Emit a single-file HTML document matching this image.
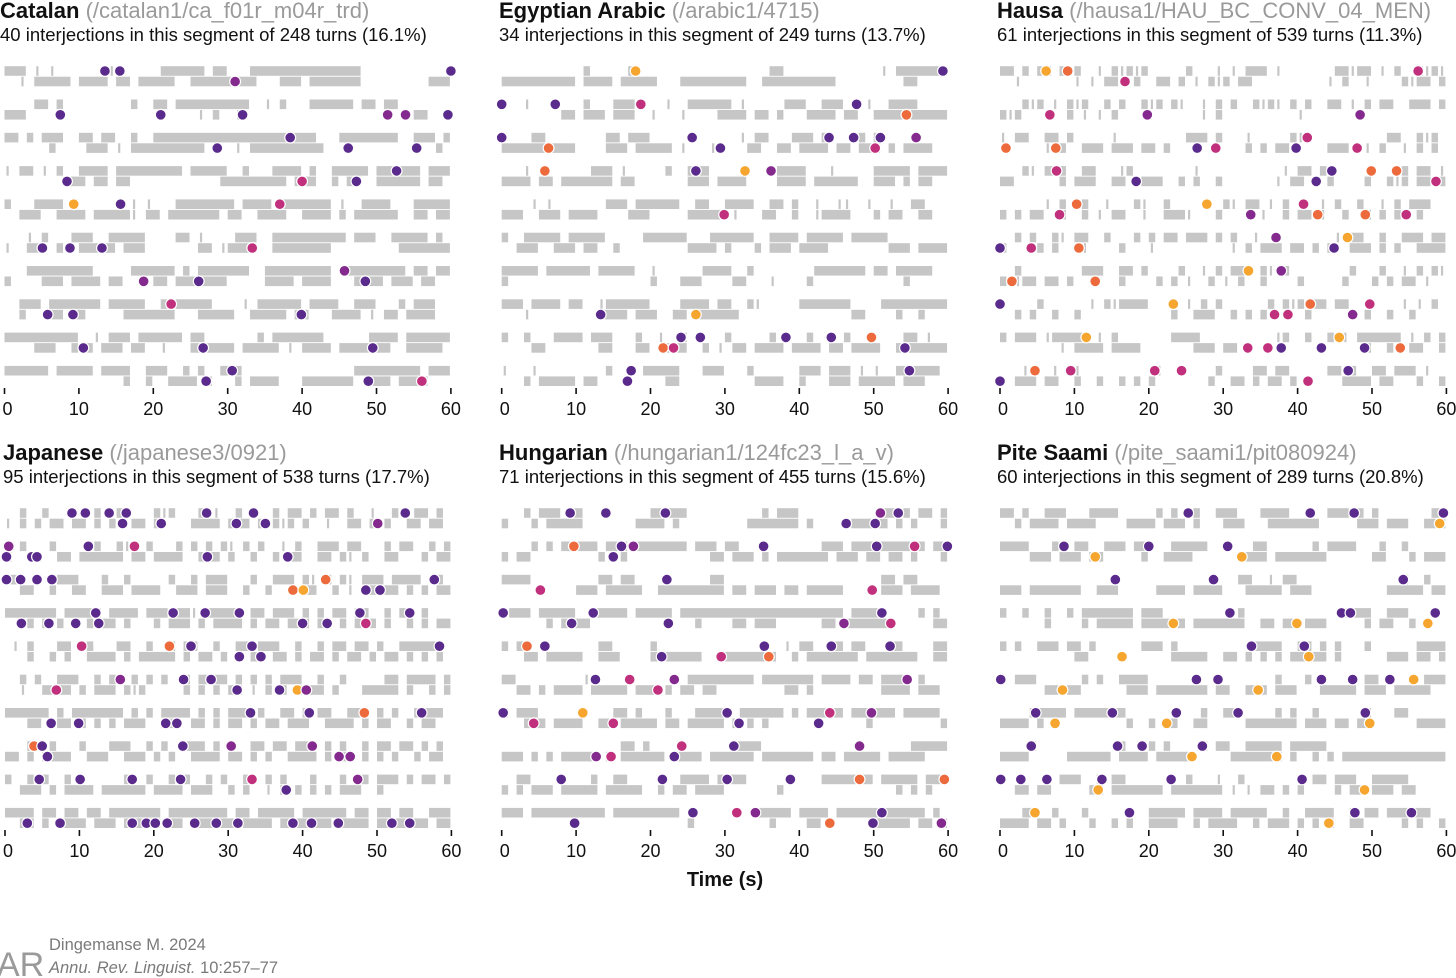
<!DOCTYPE html>
<html><head><meta charset="utf-8">
<style>
html,body{margin:0;padding:0;background:#fff;}
body{width:1456px;height:978px;overflow:hidden;position:relative;font-family:"Liberation Sans",sans-serif;}
svg{position:absolute;left:0;top:0;}
</style></head>
<body>
<svg id="chart" width="1456" height="978" viewBox="0 0 1456 978">
  <g id="titles"></g>
  <g id="marks"></g>
  <text x="725" y="886" text-anchor="middle" font-size="20" font-weight="bold" fill="#111">Time (s)</text>
  <g>
    <text x="-3" y="976" font-size="34" fill="#9a9a9a" font-family="Liberation Sans, sans-serif">AR</text>
  </g>
  <text x="49" y="950" font-size="16.5" fill="#7a7a7a">Dingemanse M. 2024</text>
  <text x="49" y="973" font-size="16.5" font-style="italic" fill="#7a7a7a">Annu. Rev. Linguist. <tspan font-style="normal">10:257–77</tspan></text>
</svg>
<script>
// ---- data ----
const panelNames = ["Catalan","Egyptian Arabic","Hausa","Japanese","Hungarian","Pite Saami"];
const panelPaths = ["(/catalan1/ca_f01r_m04r_trd)","(/arabic1/4715)","(/hausa1/HAU_BC_CONV_04_MEN)","(/japanese3/0921)","(/hungarian1/124fc23_l_a_v)","(/pite_saami1/pit080924)"];
const panelCounts = [40,34,61,95,71,60];
const panelTurns = [248,249,539,538,455,289];
const panelPercents = ["16.1%","13.7%","11.3%","17.7%","15.6%","20.8%"];
const tickValues = [0,10,20,30,40,50,60];

// bars: each row = [top track, bottom track]; one char = 1 s ('#' turn, '|' brief turn)
const catalanBars = [
 ["###.|.|.......|......######.##...###############.........","..|.#####.####.##.#####..#########...###.#######.........####"],
 ["....##.#.........#..##.##########..|.#...######.##.##......","###.......................|.#..|.......................##...."],
 ["##.#.###..##.##..#..######################...########..###.##.|","......#....###.|.##########....|.##########...............#"],
 ["|.##.|.#..####.#########.#####..#...####.#..#####.######.####..","........###.##.##............#########.###..#.##..######.##.###"],
 ["#...####.#.......|.|...########.####.#######.|..####...#####.|","..###..####.#####|.##.#######.##..####..####.#.######..##.##.##"],
 ["...|.#...###..#####....##.|....###..##########.###..#####.#.....","|..##..#..#####.###.......##.|####..########.........#######.."],
 ["...#########.....######.#.#######..#########..########.##.###","#....###.####.##..|.##.#######.....####.####...####.###.##.."],
 ["..###.#######.#####..#.#####....|.######.####..###...#.###.....","..#...##.##.....#######...#####..#####.##...####.|.##.####."],
 ["##########..|.###.######.##.......#.#######......####.########.","....###..#.#.###.##..|...######.#####.|.####.#######..#####.."],
 ["######.#####.####..###..#.#..###...............#########.#####","................#..#..####.#...#.####...#######..###.####....."]
];
const egyptBars = [
 ["...........#.....#..................##.............|.##########.|....#","##########.####.#####...#########..##########.........##........######.#####"],
 ["...|.......#...###....|..######.|.....###..###...|..####.","........##.###.###..|...|....####.##.#...####.##..####.#####"],
 ["....##........##.###............|.##...###.#....#.#..........","##########....###.#####.|...|....##..##.####.##.###.#.####."],
 ["...|........###.|.....#..###.........####...|.....#####.#####.","####.##.#######.##.......###.####....####.######..###.#.##....."],
 ["....|.|.......###.######..##..####..##.#..|..||..|..|..##...#.","###..###.####....###.....#####.|...##..#..|####...#.##..##...."],
 ["#..#####.#####.....######...######..####.#####.#####.........##########","..###..###.##..#.........####.#...#.###.####........###.#######"],
 ["#####.######.#####..|......####..#........#######.##.#####.......","#...................#...###....##...|....#............#.........."],
 ["###.####.##..|######....####.##..#|.....#######....##########.","...|.........####.###..##.######...............##....#..#..."],
 ["#..#...####.###...#..|..#.....#.....#....#....#.......##.|..","....##.......##...##..###..#.|.##.####.####.##.####..########"],
 ["|...|.........#..|.#####...###...#......###.###.|.|..######.|.","...#.#####.##.........##..........####..#...###.#####.###...#"]
];
const hausaBars = [
 ["##.#.##.#.#..|.#|#|#.....#...|.|.###.|.......##|##.|.#..#|#|##.......#|#.#.#","..|.......|.|.##..#..##.#.|.#|#.##..........|.#..|....#|##.#...|.|.|"],
 ["...#|#.|.#|#..#.#..#|#.#|..|.#.#..#|#|.#.#..##.|.#.##..###.##","#|#......#.|.|.#...........|.#..........|.......#.............."],
 ["|.##..##.#.....|.........###.#...|.....#|#..........##..#|#...","......|.#..###.###.##.#..........#.#.##.....###..|.#..|.#.#.#."],
 ["...#|.###..##...|#........|...........|.##.#..........#.##.|.###","##......#.###..##..###..#.#..#.......|.##.#.#....#..#|#.##.#.."],
 ["......|.#..#..|...#|..#.......#|.##.|.#.|..|.#..#..|.#.###","#.#.##..#..#.|.##..|..###|...#.....|..#.##.|..#..#.#.#..#....|."],
 ["..#.#..#|.##..#...#.#.##.###.#.#..|..........|.##..#..###.##","#....#.#...|....#...|..........|.#.###.##.#.#..###.#.#..####...#"],
 ["..#........###..##.#....#..|.#.##..#|.#........#...#..|.#.#|.#..","#.|##.##.#......#....#.#.|..#.|.#..#....#.....#...#.#.##.|"],
 [".....#......|.#|####.....|.#.#......#.#|#.##.##.......|.|.#.####.#.#..","..#.#..#..#............#..###..#.#.#.....#.....#.#..#..#......#"],
 ["#.###.|#####.|.#.......####..........|#..#..#.|.######.|.#.#.####..","........|.####.####.......###.##.#...............#..#..##..#.#."],
 ["...|...|..|..........|.......#....##.##.....##.#..##.###.|..|#.|..#","..###.##..#..#..#.#.#.......#..##.#.##.#.#....####.##...#..####"]
];
const japanBars = [
 ["..#..#......#..##...#|#...#.|..#.#..#.##.#.##.#..|..#..##.#","|.#.#.##.##.#.#..##.#....####.###.#.#|#.#..|..##.#.#..##.##.#"],
 ["..#...#.....#..#|..#...#.#.#.#|.#.#..|.#..###.##...#.##..#.#","#...#..##.######.##.####..###.#..#..#.##..##.#|.#..##...#.##..#"],
 ["##..#..###...#..#.....#..#.###...#..###.#|.#.#|.###.####..#","..##..#..##..###.####..###.###..#..#..|.##..#.|..#.##.#.#.###"],
 ["#######.#####.####.###.##|.#####.##.###.#.#.##.##..#.##.#...##","...#.#.#...#.##.#...#.###.#.####.#.##.###.##.#.#.#.#..#.#.##"],
 [".|.#...##..#...##..#..#.##..#..##.###..#..#.##.##.#..#####...#","...#..#.#..####.#.#####.#.##.#.#.#..##.#.##.#.##.#.##.#.#.#.."],
 ["..#.#..###..#.#..#.#.#..#.####.#.#.#.###..#..#.....##.####.##","..|..####.#.###.#|#.....#.#.#.##.|.#.#.#.##.#...#####.#..#.#.."],
 ["######.#.#######.#.#.####.#.#.###.#..##.#.##..###.#.#..####.##.","...##..##.#.#.#.###..##..##.#.##.#.##.###..####.#.##..#.##..##"],
 ["...#..#...#...###..#.#..###.#.#..##.##.###.#.#..#.##.##.#.#.#","##.#.####..###..###.#.#..####.##.#.#..####.#.##.#.#.#..#.##.#.."],
 ["#..#.#..#.......#..#..#.#..#.#..#..#.#...#...#.##.###.#.##.#","..###.#.####.######.####.###..#.#..|.#.#.#.#.###..#...."],
 ["####.##.##.##.#######.########.##.#####.######.##.##.##..###..#","..##.#.####.###.#####.##.######.####.#######.####.####.##.##"]
];
const hungBars = [
 ["...#.###.##.........#####..........#.###...........##.#.##.##.#.####","#...#.#####.......####.#.........#######.#.....#####.#.#...##.##"],
 ["....#.#.#####.###.#######.###.##...........###.########.#.##..#","#.##.........#..#...........##.###.#.#######.###.##.##.#...##.."],
 ["####.........##.##..........##.....................##.##.......","..........###.#####..#########.##.###.##.#####.....###.####..###"],
 [".###.#####..#####.#####.######################.####.....#.#...","......#.####..............#....##.###......##.#######.....##.#"],
 ["#.##.........##.....#.................|.##..##.##...##....##.....#","...##.#####..###....#######..########..#.#######.#######..####.#"],
 ["##.........|.............#########.#######.####.##.####.#.....##...#","..##.#.####.#####.###.#.##.##.........##.#.........####.###.##"],
 ["#.###..........##.#...#...#####.######.#.#####.######.#####.###","...###.####..##.#####.##.#####.#.#.#......#......#.........###"],
 ["................##.#...........####....................##########","###.#.#.#####.#.######.####.######.#######.##.#####.#####.....###"],
 ["..##........#..##.......####.####..........#######.#####.#####.#","#.#.###.#####.#####..#.##.####.......#...............#.#.#....##"],
 ["###.##########.#########..........#####.####.############.#.####.###",".........................#..........#....##.......#####.##.##.#"]
];
const piteBars = [
 ["##.#..###...####.....#.#..#..###...####.....###.#.#.......##.#","..#.####.####....####.###.#...###...#######.....###.###..####"],
 ["####...#..##..###.##...#####......##......#.####...#..#.....#.","....###.###.##.....#..####.......###.#######......##...#.###..."],
 ["................................##..|.##..............#..#......","###.#######..###.....####.####...#####.###..........#####.####."],
 ["#..#..#..#.#######.###..........#.............####..###......####.###","......#....#.#####.######.#######..##.##.###.....#.##..#..."],
 ["#.#..###.##.#......###.#..........####..##.#.#...#......####....#","..........##...........#####..##.#.#.#.#####.#......###.##.######"],
 ["..###......#.#..####.................#...#.......##.#....###..####...","......##.##......###.#######.##..###.###...#####.###.#####...#####"],
 ["....#####.#######..........#..##.....#.#..#......#...##.....","####.#...........#..#.##..##.....#######.###.##.##......####"],
 ["....#...........#...#.#....#.##..#####.#####","####.....######.####.#####.....#######.#..#.#.##############"],
 ["........###..#.##........#...|..#.........##.###..#####.","..##.##.....##.#######.#######.|.|.##.#.#....#.##.###.##"],
 ["...##..#...#.....#..#####.####.#####..#..####..#.##.######.","####.##.#...#..#.#..####..#.####..#.###.#.#.#..##.....#.#..#"]
];
// dots: [row, track(0 top / 1 bottom), seconds, colour key]
const catalanDots = [
 [0,0,13.5,'p'],[0,0,15.5,'p'],[0,1,31.0,'m'],[0,0,60,'p'],
 [1,1,7.5,'p'],[1,1,21.0,'p'],[1,1,32.0,'p'],[1,1,51.5,'m'],[1,1,53.9,'m'],[1,1,59.6,'p'],
 [2,0,38.4,'p'],[2,1,28.6,'p'],[2,1,46.2,'p'],[2,1,55.4,'p'],
 [3,0,52.7,'p'],[3,1,8.4,'p'],[3,1,40.0,'k'],[3,1,47.3,'p'],
 [4,0,9.3,'o'],[4,0,15.6,'p'],[4,0,37.0,'k'],
 [5,1,5.1,'p'],[5,1,8.8,'p'],[5,1,13.1,'p'],[5,1,33.3,'k'],
 [6,0,45.7,'m'],[6,1,18.7,'m'],[6,1,26.1,'p'],[6,1,48.5,'p'],
 [7,0,22.4,'k'],[7,1,5.8,'p'],[7,1,9.2,'p'],[7,1,39.9,'p'],
 [8,1,10.6,'p'],[8,1,26.7,'p'],[8,1,49.5,'p'],
 [9,0,30.6,'p'],[9,1,27.1,'p'],[9,1,48.9,'p'],[9,1,56.1,'k']
];
const egyptDots = [
 [0,0,18.0,'o'],[0,0,59.3,'p'],
 [1,0,0.0,'p'],[1,0,7.2,'p'],[1,0,18.7,'k'],[1,0,47.7,'p'],[1,1,54.4,'r'],
 [2,0,0.0,'p'],[2,0,25.6,'p'],[2,0,44.0,'p'],[2,0,47.3,'p'],[2,0,50.9,'p'],[2,0,55.7,'m'],[2,1,6.3,'r'],[2,1,29.4,'p'],[2,1,50.2,'k'],
 [3,0,5.8,'r'],[3,0,26.1,'p'],[3,0,32.7,'o'],[3,0,36.2,'m'],
 [4,1,29.9,'k'],
 [7,1,13.3,'p'],[7,1,26.1,'o'],
 [8,0,24.1,'p'],[8,0,26.7,'p'],[8,0,38.2,'p'],[8,0,44.3,'p'],[8,0,49.7,'r'],[8,1,21.7,'r'],[8,1,23.1,'k'],[8,1,54.2,'p'],
 [9,0,17.4,'p'],[9,0,54.8,'p'],[9,1,16.9,'p']
];
const hausaDots = [
 [0,0,6.2,'o'],[0,0,9.1,'r'],[0,0,56.2,'k'],[0,1,16.8,'k'],
 [1,1,6.7,'k'],[1,1,19.8,'m'],[1,1,48.4,'m'],
 [2,0,41.3,'k'],[2,1,0.8,'r'],[2,1,7.5,'r'],[2,1,26.5,'p'],[2,1,29.0,'k'],[2,1,39.8,'p'],[2,1,48.0,'k'],
 [3,0,7.6,'k'],[3,0,44.6,'p'],[3,0,49.9,'r'],[3,0,53.3,'r'],[3,1,18.3,'p'],[3,1,42.5,'p'],[3,1,58.6,'k'],
 [4,0,10.3,'r'],[4,0,27.8,'o'],[4,0,40.8,'k'],[4,1,8.0,'k'],[4,1,33.7,'m'],[4,1,42.7,'r'],[4,1,49.1,'r'],[4,1,54.6,'k'],
 [5,0,37.1,'m'],[5,0,46.7,'o'],[5,1,0.0,'p'],[5,1,4.2,'k'],[5,1,10.6,'r'],[5,1,44.9,'p'],
 [6,0,33.4,'o'],[6,0,37.8,'m'],[6,1,1.6,'r'],[6,1,12.8,'r'],
 [7,0,0.0,'p'],[7,0,23.3,'o'],[7,0,41.7,'r'],[7,0,49.7,'k'],[7,1,36.9,'k'],[7,1,38.7,'k'],[7,1,47.4,'m'],
 [8,0,11.6,'o'],[8,0,45.6,'o'],[8,1,33.3,'k'],[8,1,36.0,'k'],[8,1,37.8,'p'],[8,1,43.2,'p'],[8,1,49.0,'p'],[8,1,53.8,'r'],
 [9,0,4.7,'r'],[9,0,9.5,'k'],[9,0,20.8,'k'],[9,0,24.4,'k'],[9,0,46.8,'p'],[9,1,0.0,'p'],[9,1,41.4,'k']
];
const japanDots = [
 [0,0,9.0,'p'],[0,0,10.8,'p'],[0,0,14.0,'p'],[0,0,16.3,'p'],[0,0,27.1,'p'],[0,0,33.4,'p'],[0,0,53.8,'p'],
 [0,1,15.8,'p'],[0,1,21.0,'p'],[0,1,31.1,'p'],[0,1,35.0,'p'],[0,1,50.1,'m'],
 [1,0,0.5,'m'],[1,0,11.2,'p'],[1,0,17.4,'k'],[1,1,0.2,'p'],[1,1,3.6,'p'],[1,1,4.3,'p'],[1,1,27.2,'p'],[1,1,38.0,'p'],
 [2,0,0.2,'p'],[2,0,2.1,'p'],[2,0,4.3,'p'],[2,0,6.3,'p'],[2,0,43.1,'r'],[2,0,57.7,'p'],[2,1,38.7,'r'],[2,1,40.1,'o'],[2,1,48.5,'p'],[2,1,50.4,'p'],
 [3,0,12.2,'p'],[3,0,22.6,'p'],[3,0,26.9,'p'],[3,0,31.5,'p'],[3,0,47.7,'p'],[3,0,54.4,'p'],
 [3,1,2.2,'p'],[3,1,5.9,'p'],[3,1,9.5,'p'],[3,1,12.6,'p'],[3,1,40.0,'p'],[3,1,43.3,'p'],[3,1,48.5,'k'],
 [4,0,10.3,'k'],[4,0,22.1,'r'],[4,0,25.0,'p'],[4,0,33.2,'p'],[4,0,58.4,'p'],[4,1,31.5,'p'],[4,1,34.4,'p'],
 [5,0,15.5,'m'],[5,0,24.0,'p'],[5,0,27.7,'p'],[5,1,6.9,'k'],[5,1,31.2,'p'],[5,1,36.9,'p'],[5,1,39.3,'o'],[5,1,40.5,'m'],
 [6,0,33.0,'p'],[6,0,40.9,'p'],[6,0,48.3,'r'],[6,0,56.0,'p'],[6,1,6.2,'p'],[6,1,9.9,'p'],[6,1,21.6,'p'],[6,1,23.1,'p'],
 [7,0,3.9,'r'],[7,0,5.0,'p'],[7,0,23.9,'p'],[7,0,30.4,'m'],[7,0,41.3,'m'],[7,1,5.7,'p'],[7,1,44.9,'m'],[7,1,46.4,'m'],
 [8,0,4.6,'p'],[8,0,10.1,'p'],[8,0,17.1,'p'],[8,0,23.6,'p'],[8,0,33.2,'k'],[8,0,47.4,'m'],[8,1,37.8,'p'],
 [9,1,3.0,'p'],[9,1,7.4,'p'],[9,1,17.1,'p'],[9,1,19.0,'p'],[9,1,20.2,'p'],[9,1,21.8,'p'],[9,1,25.5,'p'],[9,1,28.4,'p'],[9,1,31.3,'p'],[9,1,38.7,'p'],[9,1,41.2,'p'],[9,1,44.8,'p'],[9,1,52.0,'p'],[9,1,54.4,'p']
];
const hungDots = [
 [0,0,9.2,'p'],[0,0,14.0,'p'],[0,0,22.0,'p'],[0,0,50.9,'m'],[0,0,53.3,'p'],[0,1,46.3,'p'],[0,1,50.2,'p'],
 [1,0,9.7,'r'],[1,0,16.1,'p'],[1,0,17.7,'m'],[1,0,35.2,'p'],[1,0,50.4,'p'],[1,0,55.5,'k'],[1,0,59.9,'p'],[1,1,15.0,'p'],
 [2,0,22.2,'p'],[2,1,5.2,'k'],[2,1,49.8,'k'],
 [3,0,0.2,'p'],[3,0,12.3,'p'],[3,0,51.1,'p'],[3,1,9.4,'p'],[3,1,22.4,'p'],[3,1,46.0,'m'],[3,1,52.3,'k'],
 [4,0,3.4,'r'],[4,0,5.8,'p'],[4,0,35.3,'p'],[4,0,44.3,'p'],[4,0,52.2,'p'],[4,1,21.5,'p'],[4,1,29.5,'k'],[4,1,35.9,'r'],
 [5,0,12.6,'p'],[5,0,17.2,'k'],[5,0,23.2,'m'],[5,0,54.5,'m'],[5,1,21.0,'k'],
 [6,0,0.2,'p'],[6,0,10.9,'o'],[6,0,30.3,'p'],[6,0,44.1,'k'],[6,0,49.7,'m'],[6,1,4.3,'k'],[6,1,15.0,'k'],[6,1,31.9,'p'],[6,1,42.6,'p'],
 [7,0,24.2,'k'],[7,0,31.2,'p'],[7,0,48.1,'m'],[7,1,12.7,'m'],[7,1,14.7,'k'],[7,1,23.2,'p'],
 [8,0,8.0,'p'],[8,0,21.6,'p'],[8,0,30.3,'p'],[8,0,38.8,'p'],[8,0,48.1,'r'],[8,0,59.5,'r'],
 [9,0,25.7,'p'],[9,0,31.6,'k'],[9,0,34.1,'m'],[9,0,51.1,'p'],[9,1,9.8,'p'],[9,1,44.1,'r'],[9,1,49.9,'p'],[9,1,59.1,'m']
];
const piteDots = [
 [0,0,25.3,'p'],[0,0,41.7,'p'],[0,0,47.6,'p'],[0,0,59.6,'p'],[0,1,59.1,'o'],
 [1,0,8.6,'p'],[1,0,20.0,'p'],[1,0,30.6,'p'],[1,1,12.8,'o'],[1,1,32.5,'o'],
 [2,0,15.5,'p'],[2,0,28.7,'p'],[2,0,54.2,'p'],
 [3,0,30.9,'p'],[3,0,45.9,'p'],[3,0,47.1,'p'],[3,0,58.5,'p'],[3,1,23.3,'o'],[3,1,39.9,'o'],[3,1,57.5,'o'],
 [4,0,33.8,'p'],[4,0,40.9,'p'],[4,1,16.4,'o'],[4,1,41.5,'o'],
 [5,0,0.1,'p'],[5,0,26.4,'p'],[5,0,29.3,'p'],[5,0,43.2,'p'],[5,0,47.4,'p'],[5,0,52.4,'p'],[5,0,55.6,'o'],[5,1,8.4,'o'],[5,1,34.7,'o'],
 [6,0,4.8,'p'],[6,0,15.1,'p'],[6,0,23.7,'p'],[6,0,32.0,'p'],[6,0,49.1,'p'],[6,1,7.4,'o'],[6,1,22.4,'o'],[6,1,49.7,'o'],
 [7,0,4.2,'p'],[7,0,15.8,'p'],[7,0,19.1,'p'],[7,0,27.2,'p'],[7,1,25.8,'o'],[7,1,37.2,'o'],
 [8,0,0.1,'p'],[8,0,2.8,'p'],[8,0,6.3,'p'],[8,0,13.7,'p'],[8,0,23.0,'p'],[8,0,40.6,'p'],[8,1,13.2,'o'],[8,1,49.0,'o'],
 [9,0,4.7,'o'],[9,0,17.4,'p'],[9,0,47.7,'p'],[9,0,55.3,'p'],[9,1,44.2,'o']
];

// ---- layout ----
const panelBars = [catalanBars, egyptBars, hausaBars, japanBars, hungBars, piteBars];
const panelDots = [catalanDots, egyptDots, hausaDots, japanDots, hungDots, piteDots];
const panelX0 = [4.5, 501.7, 1000, 5, 501.7, 1000];
const panelTitleX = [0, 499, 997, 3, 499, 997];
const SEC = 7.44, ROWH = 33.3, TRK = 10.5;
const colours = {p:'#5a2a8c', m:'#842a8e', k:'#c0307c', r:'#ec6a3c', o:'#f6a52e'};
const NS = 'http://www.w3.org/2000/svg';
const marks = document.getElementById('marks');
const titles = document.getElementById('titles');

function mk(tag, attrs, parent){
  const e = document.createElementNS(NS, tag);
  for (const k in attrs) e.setAttribute(k, attrs[k]);
  parent.appendChild(e);
  return e;
}

panelNames.forEach((name, i) => {
  const x0 = panelX0[i];
  const top = i < 3 ? 0 : 442;
  const yFirst = 71 + top;
  const xs = t => x0 + t * SEC;
  const ys = (row, tr) => yFirst + row * ROWH + tr * TRK;

  const g = mk('g', {}, marks);
  
  

  const tt = mk('text', {x: panelTitleX[i], y: 18 + top, 'font-size': 22, fill: '#111'}, titles);
  
  
  const b = mk('tspan', {'font-weight': 'bold'}, tt); b.textContent = name + ' ';
  const gp = mk('tspan', {fill: '#9a9a9a'}, tt); gp.textContent = panelPaths[i];
  const st = mk('text', {x: panelTitleX[i], y: 41 + top, 'font-size': 18.5, fill: '#111'}, titles);
  
  
  st.textContent = panelCounts[i] + ' interjections in this segment of ' + panelTurns[i] + ' turns (' + panelPercents[i] + ')';

  panelBars[i].forEach((tracks, row) => {
    tracks.forEach((s, tr) => {
      const cy = ys(row, tr);
      let j = 0;
      while (j < s.length && j < 60) {
        const c = s[j];
        if (c === '#') {
          let k = j; while (k < s.length && k < 60 && s[k] === '#') k++;
          const r = mk('rect', {x: xs(j), y: cy - 4.8, width: Math.max(1, xs(k) - xs(j) - 1), height: 9.6, fill: '#c6c6c7'}, g);
          
          
          j = k;
        } else {
          if (c === '|') {
            const r = mk('rect', {x: xs(j) + 2, y: cy - 4.8, width: 2.2, height: 9.6, fill: '#c6c6c7'}, g);
            
            
          }
          j++;
        }
      }
    });
  });

  panelDots[i].forEach(d => {
    const c = mk('circle', {cx: xs(d[2]), cy: ys(d[0], d[1]), r: 5.4, fill: colours[d[3]], stroke: '#fff', 'stroke-width': 1.2}, g);
    
    
  });

  const tickY = 388 + top;
  tickValues.forEach(v => {
    const l = mk('line', {x1: xs(v), x2: xs(v), y1: tickY, y2: tickY + 6, stroke: '#111', 'stroke-width': 1.6}, g);
    
    
    const t = mk('text', {x: xs(v) + (v === 0 ? 3 : 0), y: tickY + 27, 'text-anchor': 'middle', 'font-size': 18, fill: '#111'}, g);
    
    
    t.textContent = v;
  });
});
</script>
</body></html>
